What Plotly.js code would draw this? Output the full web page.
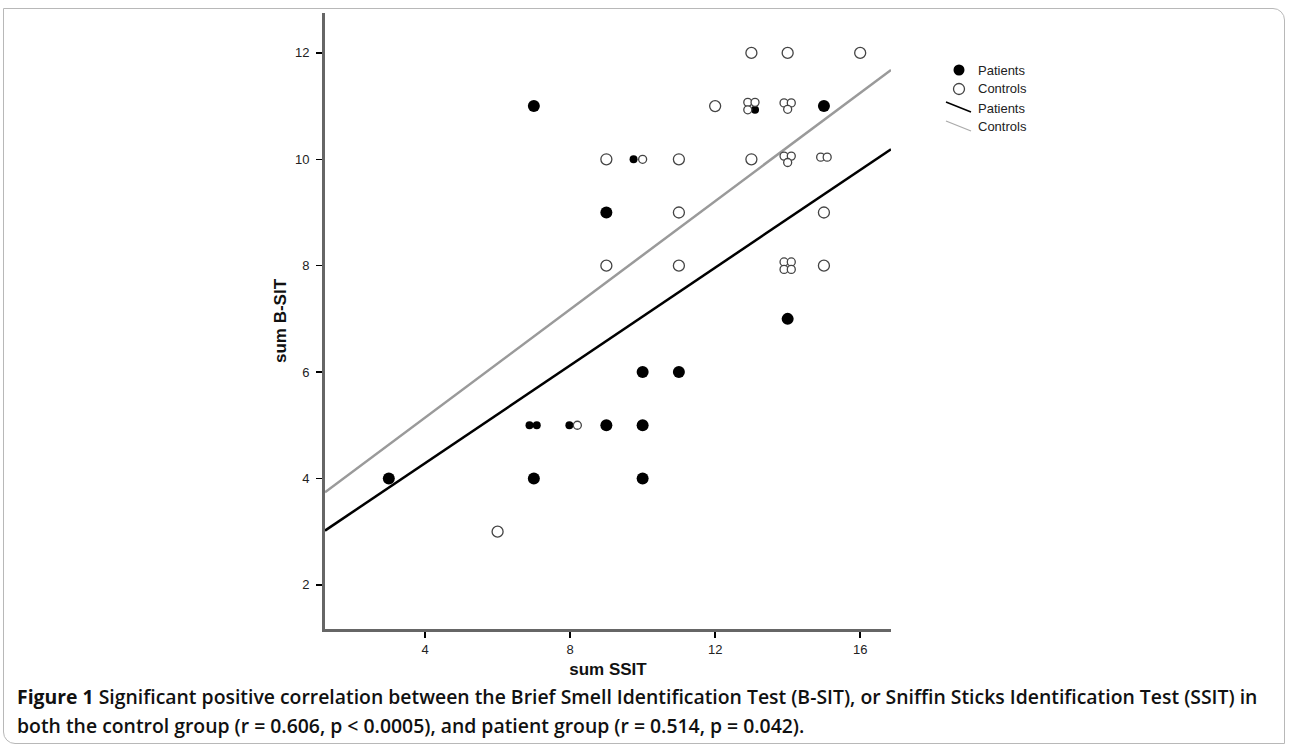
<!DOCTYPE html>
<html>
<head>
<meta charset="utf-8">
<script src="https://cdn.plot.ly/plotly-3.0.1.min.js"></script>
<style>
  html, body { margin: 0; padding: 0; background: #fff; }
  #frame { position: absolute; left: 3px; top: 8px; width: 1280px; height: 734px;
           border: 1px solid #b8b8b8; border-top-right-radius: 12px; border-bottom-left-radius: 12px; }
  #chart { position: absolute; left: 0; top: 0; width: 1290px; height: 746px; }
</style>
</head>
<body>
<div id="frame"></div>
<div id="chart"></div>
<script>
// ---- data ----
// Patients (filled circles)
const patientsX = [3, 7, 6.88, 7.08, 7, 7.98, 9, 9, 10, 10, 10, 11, 9.75, 13.1, 15, 14];
const patientsY = [4, 11, 5, 5, 4, 5, 9, 5, 6, 5, 4, 6, 10, 10.93, 11, 7];
// Controls (open circles)
const controlsX = [6, 8.2, 9, 9, 10, 11, 11, 11, 12, 13, 12.9, 13.1, 12.9, 13, 14,
                   13.9, 14.1, 14, 13.9, 14.1, 14, 13.9, 14.1, 13.9, 14.1, 14.91, 15.09, 15, 15, 16];
const controlsY = [3, 5, 10, 8, 10, 10, 9, 8, 11, 12, 11.07, 11.07, 10.93, 10, 12,
                   11.06, 11.06, 10.94, 10.06, 10.06, 9.94, 8.07, 8.07, 7.93, 7.93, 10.04, 10.04, 9, 8, 12];
// Fit lines (end values at the axis limits)
const fitX = [1.24, 16.85];
const patientsFitY = [3.02, 10.19];
const controlsFitY = [3.74, 11.68];
// Axis ticks
const xTicks = [4, 8, 12, 16];
const yTicks = [2, 4, 6, 8, 10, 12];
const legendLabels = ['Patients', 'Controls', 'Patients', 'Controls'];

// ---- marker sizes: overlapping (jittered) markers drawn smaller ----
const allX = patientsX.concat(controlsX), allY = patientsY.concat(controlsY);
function sizesFor(xs, ys, big) {
  return xs.map((x, i) => {
    let crowded = false;
    for (let j = 0; j < allX.length; j++) {
      const dx = Math.abs(allX[j] - x), dy = Math.abs(allY[j] - ys[i]);
      if ((dx > 1e-9 || dy > 1e-9) && dx < 0.3 && dy < 0.2) crowded = true;
    }
    return crowded ? 8 : big;
  });
}

const font = 'Liberation Sans, Arial, Helvetica, sans-serif';
const traces = [
  { x: fitX, y: controlsFitY, mode: 'lines', line: { color: '#9a9a9a', width: 2.5 }, hoverinfo: 'skip' },
  { x: fitX, y: patientsFitY, mode: 'lines', line: { color: '#000', width: 2.5 }, hoverinfo: 'skip' },
  { x: patientsX, y: patientsY, mode: 'markers',
    marker: { color: '#000', opacity: 1, size: sizesFor(patientsX, patientsY, 12), line: { width: 0 } } },
  { x: controlsX, y: controlsY, mode: 'markers',
    marker: { color: '#fff', opacity: 1, size: sizesFor(controlsX, controlsY, 11), line: { color: '#444', width: 1.3 } } }
];

// ---- custom legend (paper coords relative to plot area) ----
const L = 325, T = 13, W = 566, H = 616;
const px = v => (v - L) / W, py = v => (T + H - v) / H;
const shapes = [];
const ann = [];
const legRows = [70, 89, 108, 127];
const cx = 959, r = 5.5;
shapes.push({ type: 'circle', xref: 'paper', yref: 'paper', x0: px(cx - r), x1: px(cx + r), y0: py(legRows[0] + r), y1: py(legRows[0] - r),
  fillcolor: '#000', line: { width: 0 } });
shapes.push({ type: 'circle', xref: 'paper', yref: 'paper', x0: px(cx - r), x1: px(cx + r), y0: py(legRows[1] + r), y1: py(legRows[1] - r),
  fillcolor: '#fff', line: { color: '#444', width: 1.3 } });
shapes.push({ type: 'line', xref: 'paper', yref: 'paper', x0: px(946), x1: px(971), y0: py(legRows[2] - 6), y1: py(legRows[2] + 4),
  line: { color: '#000', width: 1.5 } });
shapes.push({ type: 'line', xref: 'paper', yref: 'paper', x0: px(946), x1: px(971), y0: py(legRows[3] - 6), y1: py(legRows[3] + 4),
  line: { color: '#aaa', width: 1.2 } });
legendLabels.forEach((t, i) => ann.push({ xref: 'paper', yref: 'paper', x: px(976), y: py(legRows[i]), xanchor: 'left', yanchor: 'middle',
  text: t, showarrow: false, font: { family: font, size: 13, color: '#222' } }));

// ---- caption ----
const capFont = { family: 'Open Sans, sans-serif', size: 19.4, color: '#111', weight: 600 };
ann.push({ xref: 'paper', yref: 'paper', x: px(15), y: py(696), xanchor: 'left', yanchor: 'middle', align: 'left', showarrow: false,
  text: '<b>Figure 1</b> Significant positive correlation between the Brief Smell Identification Test (B-SIT), or Sniffin Sticks Identification Test (SSIT) in',
  font: capFont });
ann.push({ xref: 'paper', yref: 'paper', x: px(15), y: py(725), xanchor: 'left', yanchor: 'middle', align: 'left', showarrow: false,
  text: 'both the control group (r = 0.606, p < 0.0005), and patient group (r = 0.514, p = 0.042).',
  font: capFont });

const layout = {
  width: 1290, height: 746,
  margin: { l: L, r: 1290 - L - W, t: T, b: 746 - T - H, pad: 0 },
  paper_bgcolor: 'rgba(0,0,0,0)', plot_bgcolor: 'rgba(0,0,0,0)',
  showlegend: false,
  xaxis: { range: [fitX[0], fitX[1]], tickvals: xTicks, ticks: 'outside', ticklen: 6, tickwidth: 1.5, tickcolor: '#000',
    showline: true, linecolor: '#666', linewidth: 3, showgrid: false, zeroline: false,
    tickfont: { family: font, size: 13, color: '#222' },
    title: { text: '<b>sum SSIT</b>', font: { family: font, size: 17, color: '#111' }, standoff: 8 } },
  yaxis: { range: [1.17, 12.75], tickvals: yTicks, ticks: 'outside', ticklen: 6, tickwidth: 1.5, tickcolor: '#000',
    showline: true, linecolor: '#666', linewidth: 3, showgrid: false, zeroline: false,
    tickfont: { family: font, size: 13, color: '#222' }, ticklabelstandoff: 4,
    title: { text: '<b>sum B-SIT</b>', font: { family: font, size: 17, color: '#111' }, standoff: 4 } },
  shapes: shapes, annotations: ann
};
Plotly.newPlot('chart', traces, layout, { displayModeBar: false, staticPlot: true });
</script>
</body>
</html>
